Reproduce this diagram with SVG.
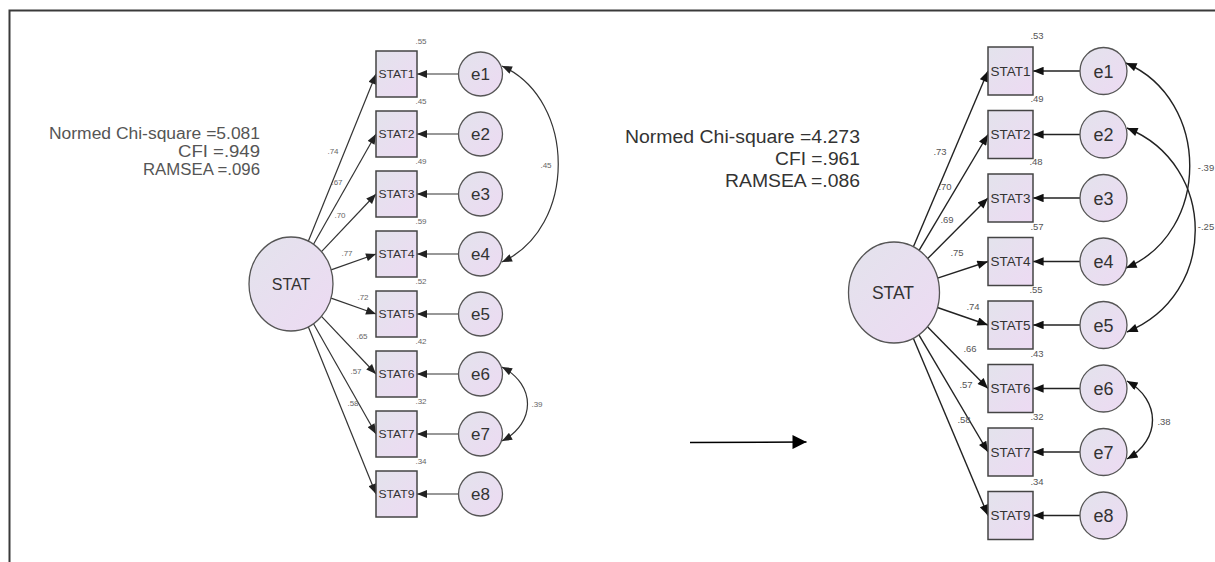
<svg xmlns="http://www.w3.org/2000/svg" width="1215" height="562" viewBox="0 0 1215 562">
<style>
  text { font-family: "Liberation Sans", Arial, sans-serif; }
  .node { fill: url(#gf); stroke: #444; stroke-width: 1.5; }
  .lat { fill: url(#gf); stroke: #555; stroke-width: 1.3; }
  .ln { fill: none; stroke: #333; stroke-width: 1.2; }
  .lnR { fill: none; stroke: #222; stroke-width: 1.4; }
  .bl { font-size: 10.5px; fill: #333; text-anchor: middle; }
  .blR { font-size: 12.5px; fill: #333; text-anchor: middle; }
  .el { font-size: 17px; fill: #333; text-anchor: middle; }
  .elR { font-size: 18px; fill: #333; text-anchor: middle; }
  .num { font-size: 8px; fill: #666; text-anchor: middle; }
  .numR { font-size: 9.5px; fill: #555; text-anchor: middle; }
  .fit { font-size: 16px; fill: #555; text-anchor: end; }
  .fitR { font-size: 18px; fill: #333; text-anchor: end; }
</style>
<defs>
  <linearGradient id="gf" x1="0" y1="0" x2="1" y2="1">
    <stop offset="0" stop-color="#e3e3ec"/>
    <stop offset="1" stop-color="#eddaf3"/>
  </linearGradient>
  <marker id="aL" viewBox="0 0 10 8" refX="10" refY="4" markerWidth="11" markerHeight="8" markerUnits="userSpaceOnUse" orient="auto-start-reverse">
    <path d="M0,0 L10,4 L0,8 z" fill="#222"/>
  </marker>
  <marker id="aR" viewBox="0 0 10 8" refX="10" refY="4" markerWidth="12" markerHeight="8.5" markerUnits="userSpaceOnUse" orient="auto-start-reverse">
    <path d="M0,0 L10,4 L0,8 z" fill="#111"/>
  </marker>
  <marker id="aM" viewBox="0 0 10 10" refX="10" refY="5" markerWidth="15" markerHeight="14" markerUnits="userSpaceOnUse" orient="auto">
    <path d="M0,0 L10,5 L0,10 z" fill="#000"/>
  </marker>
</defs>
<rect width="1215" height="562" fill="#fff"/>
<path d="M9.5 562 V10.5 H1215" fill="none" stroke="#3a3a3a" stroke-width="2"/>

<!-- fit statistics -->
<g id="fit-left">
  <text class="fit" x="260" y="139" textLength="211" lengthAdjust="spacingAndGlyphs">Normed Chi-square =5.081</text>
  <text class="fit" x="260" y="157" textLength="82" lengthAdjust="spacingAndGlyphs">CFI =.949</text>
  <text class="fit" x="260" y="175" textLength="117" lengthAdjust="spacingAndGlyphs">RAMSEA =.096</text>
</g>
<g id="fit-right">
  <text class="fitR" x="860" y="143" textLength="235" lengthAdjust="spacingAndGlyphs">Normed Chi-square =4.273</text>
  <text class="fitR" x="860" y="165" textLength="85" lengthAdjust="spacingAndGlyphs">CFI =.961</text>
  <text class="fitR" x="860" y="187" textLength="135" lengthAdjust="spacingAndGlyphs">RAMSEA =.086</text>
</g>

<!-- connectors -->
<g id="connectors">
  <!-- left model loadings -->
  <line class="ln" x1="308.3" y1="241.2" x2="376" y2="74" marker-end="url(#aL)"/>
  <line class="ln" x1="313.5" y1="244.3" x2="376" y2="134" marker-end="url(#aL)"/>
  <line class="ln" x1="321.5" y1="251.7" x2="376" y2="194" marker-end="url(#aL)"/>
  <line class="ln" x1="331.1" y1="269.9" x2="376" y2="254" marker-end="url(#aL)"/>
  <line class="ln" x1="331.1" y1="298.1" x2="376" y2="314" marker-end="url(#aL)"/>
  <line class="ln" x1="321.5" y1="316.3" x2="376" y2="374" marker-end="url(#aL)"/>
  <line class="ln" x1="313.5" y1="323.7" x2="376" y2="434" marker-end="url(#aL)"/>
  <line class="ln" x1="308.3" y1="326.8" x2="376" y2="494" marker-end="url(#aL)"/>
  <!-- left error arrows -->
  <line class="ln" x1="458.5" y1="74" x2="417" y2="74" marker-end="url(#aL)"/>
  <line class="ln" x1="458.5" y1="134" x2="417" y2="134" marker-end="url(#aL)"/>
  <line class="ln" x1="458.5" y1="194" x2="417" y2="194" marker-end="url(#aL)"/>
  <line class="ln" x1="458.5" y1="254" x2="417" y2="254" marker-end="url(#aL)"/>
  <line class="ln" x1="458.5" y1="314" x2="417" y2="314" marker-end="url(#aL)"/>
  <line class="ln" x1="458.5" y1="374" x2="417" y2="374" marker-end="url(#aL)"/>
  <line class="ln" x1="458.5" y1="434" x2="417" y2="434" marker-end="url(#aL)"/>
  <line class="ln" x1="458.5" y1="494" x2="417" y2="494" marker-end="url(#aL)"/>
  <!-- left covariances -->
  <path class="ln" d="M502 66 C577 100, 577 228, 502 262" marker-start="url(#aL)" marker-end="url(#aL)"/>
  <path class="ln" d="M502 367 C536 385, 536 423, 502 441" marker-start="url(#aL)" marker-end="url(#aL)"/>

  <!-- right model loadings -->
  <line class="lnR" x1="913.4" y1="246.8" x2="988" y2="71" marker-end="url(#aR)"/>
  <line class="lnR" x1="919.1" y1="250.4" x2="988" y2="134.5" marker-end="url(#aR)"/>
  <line class="lnR" x1="927.7" y1="258.6" x2="988" y2="198" marker-end="url(#aR)"/>
  <line class="lnR" x1="937.6" y1="278.1" x2="988" y2="261.5" marker-end="url(#aR)"/>
  <line class="lnR" x1="937.4" y1="307.5" x2="988" y2="325" marker-end="url(#aR)"/>
  <line class="lnR" x1="927.5" y1="326.7" x2="988" y2="388.5" marker-end="url(#aR)"/>
  <line class="lnR" x1="918.9" y1="334.8" x2="988" y2="452" marker-end="url(#aR)"/>
  <line class="lnR" x1="913.3" y1="338.2" x2="988" y2="515.5" marker-end="url(#aR)"/>
  <!-- right error arrows -->
  <line class="lnR" x1="1080" y1="71" x2="1033" y2="71" marker-end="url(#aR)"/>
  <line class="lnR" x1="1080" y1="134.5" x2="1033" y2="134.5" marker-end="url(#aR)"/>
  <line class="lnR" x1="1080" y1="198" x2="1033" y2="198" marker-end="url(#aR)"/>
  <line class="lnR" x1="1080" y1="261.5" x2="1033" y2="261.5" marker-end="url(#aR)"/>
  <line class="lnR" x1="1080" y1="325" x2="1033" y2="325" marker-end="url(#aR)"/>
  <line class="lnR" x1="1080" y1="388.5" x2="1033" y2="388.5" marker-end="url(#aR)"/>
  <line class="lnR" x1="1080" y1="452" x2="1033" y2="452" marker-end="url(#aR)"/>
  <line class="lnR" x1="1080" y1="515.5" x2="1033" y2="515.5" marker-end="url(#aR)"/>
  <!-- right covariances -->
  <path class="lnR" d="M1126 63 C1211 100, 1211 232, 1126 268" marker-start="url(#aR)" marker-end="url(#aR)"/>
  <path class="lnR" d="M1127 128 C1218 165, 1218 295, 1127 332" marker-start="url(#aR)" marker-end="url(#aR)"/>
  <path class="lnR" d="M1127 381 C1161 400, 1161 440, 1127 459" marker-start="url(#aR)" marker-end="url(#aR)"/>

  <!-- middle arrow -->
  <line x1="690" y1="442.5" x2="806.5" y2="442" stroke="#000" stroke-width="1.6" marker-end="url(#aM)"/>
</g>

<!-- left model labels -->
<g id="labels-left">
  <text class="num" x="333" y="154">.74</text>
  <text class="num" x="337" y="185">.67</text>
  <text class="num" x="340" y="218">.70</text>
  <text class="num" x="347" y="256">.77</text>
  <text class="num" x="363" y="300">.72</text>
  <text class="num" x="362" y="339">.65</text>
  <text class="num" x="356" y="374">.57</text>
  <text class="num" x="353" y="406">.58</text>
  <text class="num" x="421" y="44">.55</text>
  <text class="num" x="421" y="104">.45</text>
  <text class="num" x="421" y="164">.49</text>
  <text class="num" x="421" y="224">.59</text>
  <text class="num" x="421" y="284">.52</text>
  <text class="num" x="421" y="344">.42</text>
  <text class="num" x="421" y="404">.32</text>
  <text class="num" x="421" y="464">.34</text>
  <text class="num" x="546" y="168">.45</text>
  <text class="num" x="537" y="407">.39</text>
</g>

<!-- left model nodes -->
<g id="L-STAT"><ellipse class="lat" cx="291" cy="284" rx="42" ry="47"/><text x="291" y="290" font-size="16" fill="#333" text-anchor="middle">STAT</text></g>
<g id="L-STAT1"><rect class="node" x="376" y="51" width="41" height="46"/><text class="bl" x="396.5" y="77.5" textLength="36" lengthAdjust="spacingAndGlyphs">STAT1</text></g>
<g id="L-STAT2"><rect class="node" x="376" y="111" width="41" height="46"/><text class="bl" x="396.5" y="137.5" textLength="36" lengthAdjust="spacingAndGlyphs">STAT2</text></g>
<g id="L-STAT3"><rect class="node" x="376" y="171" width="41" height="46"/><text class="bl" x="396.5" y="197.5" textLength="36" lengthAdjust="spacingAndGlyphs">STAT3</text></g>
<g id="L-STAT4"><rect class="node" x="376" y="231" width="41" height="46"/><text class="bl" x="396.5" y="257.5" textLength="36" lengthAdjust="spacingAndGlyphs">STAT4</text></g>
<g id="L-STAT5"><rect class="node" x="376" y="291" width="41" height="46"/><text class="bl" x="396.5" y="317.5" textLength="36" lengthAdjust="spacingAndGlyphs">STAT5</text></g>
<g id="L-STAT6"><rect class="node" x="376" y="351" width="41" height="46"/><text class="bl" x="396.5" y="377.5" textLength="36" lengthAdjust="spacingAndGlyphs">STAT6</text></g>
<g id="L-STAT7"><rect class="node" x="376" y="411" width="41" height="46"/><text class="bl" x="396.5" y="437.5" textLength="36" lengthAdjust="spacingAndGlyphs">STAT7</text></g>
<g id="L-STAT9"><rect class="node" x="376" y="471" width="41" height="46"/><text class="bl" x="396.5" y="497.5" textLength="36" lengthAdjust="spacingAndGlyphs">STAT9</text></g>
<g id="L-e1"><circle class="lat" cx="480.5" cy="74" r="22"/><text class="el" x="480.5" y="80">e1</text></g>
<g id="L-e2"><circle class="lat" cx="480.5" cy="134" r="22"/><text class="el" x="480.5" y="140">e2</text></g>
<g id="L-e3"><circle class="lat" cx="480.5" cy="194" r="22"/><text class="el" x="480.5" y="200">e3</text></g>
<g id="L-e4"><circle class="lat" cx="480.5" cy="254" r="22"/><text class="el" x="480.5" y="260">e4</text></g>
<g id="L-e5"><circle class="lat" cx="480.5" cy="314" r="22"/><text class="el" x="480.5" y="320">e5</text></g>
<g id="L-e6"><circle class="lat" cx="480.5" cy="374" r="22"/><text class="el" x="480.5" y="380">e6</text></g>
<g id="L-e7"><circle class="lat" cx="480.5" cy="434" r="22"/><text class="el" x="480.5" y="440">e7</text></g>
<g id="L-e8"><circle class="lat" cx="480.5" cy="494" r="22"/><text class="el" x="480.5" y="500">e8</text></g>

<!-- right model labels -->
<g id="labels-right">
  <text class="numR" x="940" y="155">.73</text>
  <text class="numR" x="945" y="190">.70</text>
  <text class="numR" x="947" y="223">.69</text>
  <text class="numR" x="957" y="256">.75</text>
  <text class="numR" x="973" y="310">.74</text>
  <text class="numR" x="970" y="352">.66</text>
  <text class="numR" x="966" y="388">.57</text>
  <text class="numR" x="964" y="423">.58</text>
  <text class="numR" x="1037" y="39">.53</text>
  <text class="numR" x="1037" y="102">.49</text>
  <text class="numR" x="1036" y="165">.48</text>
  <text class="numR" x="1037" y="230">.57</text>
  <text class="numR" x="1036" y="293">.55</text>
  <text class="numR" x="1037" y="357">.43</text>
  <text class="numR" x="1037" y="420">.32</text>
  <text class="numR" x="1037" y="485">.34</text>
  <text class="numR" x="1206" y="171">-.39</text>
  <text class="numR" x="1206" y="230">-.25</text>
  <text class="numR" x="1164" y="425">.38</text>
</g>

<!-- right model nodes -->
<g id="R-STAT"><ellipse class="lat" cx="894" cy="292.5" rx="45.5" ry="50.5"/><text x="893" y="299" font-size="17.5" fill="#333" text-anchor="middle">STAT</text></g>
<g id="R-STAT1"><rect class="node" x="988" y="47" width="45" height="48"/><text class="blR" x="1010.5" y="75.5" textLength="40" lengthAdjust="spacingAndGlyphs">STAT1</text></g>
<g id="R-STAT2"><rect class="node" x="988" y="110.5" width="45" height="48"/><text class="blR" x="1010.5" y="139" textLength="40" lengthAdjust="spacingAndGlyphs">STAT2</text></g>
<g id="R-STAT3"><rect class="node" x="988" y="174" width="45" height="48"/><text class="blR" x="1010.5" y="202.5" textLength="40" lengthAdjust="spacingAndGlyphs">STAT3</text></g>
<g id="R-STAT4"><rect class="node" x="988" y="237.5" width="45" height="48"/><text class="blR" x="1010.5" y="266" textLength="40" lengthAdjust="spacingAndGlyphs">STAT4</text></g>
<g id="R-STAT5"><rect class="node" x="988" y="301" width="45" height="48"/><text class="blR" x="1010.5" y="329.5" textLength="40" lengthAdjust="spacingAndGlyphs">STAT5</text></g>
<g id="R-STAT6"><rect class="node" x="988" y="364.5" width="45" height="48"/><text class="blR" x="1010.5" y="393" textLength="40" lengthAdjust="spacingAndGlyphs">STAT6</text></g>
<g id="R-STAT7"><rect class="node" x="988" y="428" width="45" height="48"/><text class="blR" x="1010.5" y="456.5" textLength="40" lengthAdjust="spacingAndGlyphs">STAT7</text></g>
<g id="R-STAT9"><rect class="node" x="988" y="491.5" width="45" height="48"/><text class="blR" x="1010.5" y="520" textLength="40" lengthAdjust="spacingAndGlyphs">STAT9</text></g>
<g id="R-e1"><circle class="lat" cx="1103.5" cy="71" r="23.5"/><text class="elR" x="1103.5" y="77.5">e1</text></g>
<g id="R-e2"><circle class="lat" cx="1103.5" cy="134.5" r="23.5"/><text class="elR" x="1103.5" y="141">e2</text></g>
<g id="R-e3"><circle class="lat" cx="1103.5" cy="198" r="23.5"/><text class="elR" x="1103.5" y="204.5">e3</text></g>
<g id="R-e4"><circle class="lat" cx="1103.5" cy="261.5" r="23.5"/><text class="elR" x="1103.5" y="268">e4</text></g>
<g id="R-e5"><circle class="lat" cx="1103.5" cy="325" r="23.5"/><text class="elR" x="1103.5" y="331.5">e5</text></g>
<g id="R-e6"><circle class="lat" cx="1103.5" cy="388.5" r="23.5"/><text class="elR" x="1103.5" y="395">e6</text></g>
<g id="R-e7"><circle class="lat" cx="1103.5" cy="452" r="23.5"/><text class="elR" x="1103.5" y="458.5">e7</text></g>
<g id="R-e8"><circle class="lat" cx="1103.5" cy="515.5" r="23.5"/><text class="elR" x="1103.5" y="522">e8</text></g>
</svg>
